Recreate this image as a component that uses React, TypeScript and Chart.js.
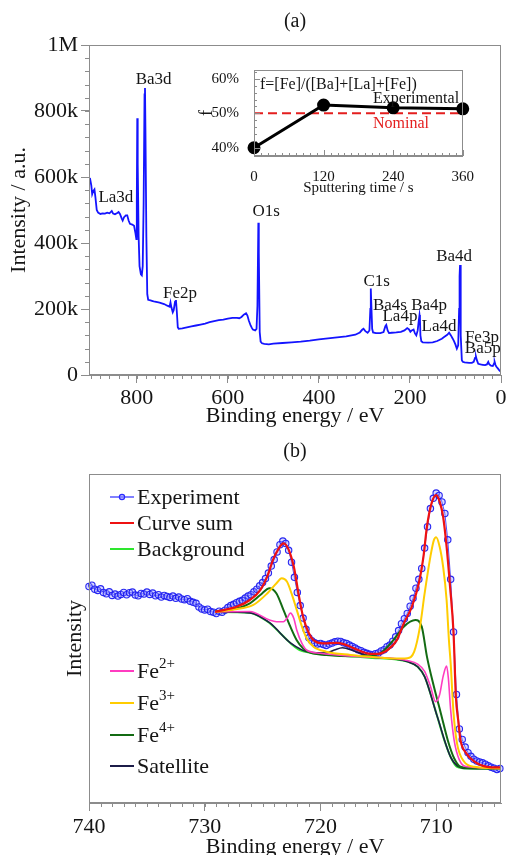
import React, { useEffect, useRef } from 'react';
import { Chart, registerables } from 'chart.js';

Chart.register(...registerables);

const SERIF = '"Liberation Serif", "Times New Roman", Times, serif';
const AXIS_GRAY = '#8c8c8c';
const INK = '#151515';

// ---------- (a) survey spectrum ----------
const surveyEnergy = [903,900,898,896,893,891,888,885,880,875,870,865,860,855,852,848,843,840,837,833,831,828,824,821,818,815,810,806,803,801,800,799,798,796,794,791,789,787,785,783,782,781,779,777,775,770,765,760,750,740,733,728,726,724,721,719,716,714,712,710,708,700,690,680,670,660,650,640,630,620,610,600,590,580,575,570,565,560,557,554,550,547,545,540,537,535,533,532,530,528,525,520,510,500,480,460,440,420,400,380,360,340,320,310,305,302,298,293,289,287,286,285,283,281,275,265,258,254,252,249,246,240,230,220,212,206,202,199,196,192,189,186,183,181,179,178,177,175,172,160,150,140,130,125,118,114,110,106,103,100,97,94,92,91,90,89,88,86,84,80,70,64,60,57,55,53,50,45,40,35,31,28,26,22,18,15,14,12,10,7,4,2,0];
const surveyIntensityK = [597,575,548,556,562,540,500,492,488,490,489,492,490,497,489,487,491,494,488,474,468,478,484,484,468,458,456,452,430,412,520,778,640,420,330,305,302,330,520,850,870,740,420,245,228,226,224,222,219,215,210,207,220,205,190,196,222,227,190,145,140,141,144,147,150,153,156,160,163,166,168,171,173,173,172,176,183,187,180,165,150,142,138,135,140,210,461,370,130,101,96,94,93,95,97,99,101,104,108,111,114,117,122,129,137,140,133,128,135,200,262,220,140,129,127,127,130,148,152,135,127,128,129,131,135,142,138,131,135,138,126,120,135,160,182,170,120,102,99,98,99,103,110,115,122,128,120,110,102,92,80,90,200,300,333,250,120,45,40,38,37,37,40,52,56,45,34,32,31,30,32,40,33,28,27,36,40,30,25,20,15,12,10];
const surveyTicksX = [0, 200, 400, 600, 800];
const surveyTicksY = [0, 200, 400, 600, 800, 1000];
const peakNames = ['La3d', 'Ba3d', 'Fe2p', 'O1s', 'C1s', 'Ba4s', 'La4p', 'Ba4p', 'La4d', 'Ba4d', 'Fe3p', 'Ba5p'];
const peakLabelEnergy = [846, 763, 705, 516, 273, 244, 222, 158, 136, 103, 42, 40];
const peakLabelIntensityK = [539, 894, 248, 494, 282, 209, 176, 209, 148, 358, 115, 79];

// ---------- inset ----------
const sputterTime = [0, 120, 240, 360];
const feFraction = [0.40, 0.524, 0.516, 0.513];
const nominalFraction = 0.5;
const insetTicksX = [0, 120, 240, 360];
const insetTicksY = [0.4, 0.5, 0.6];

// ---------- (b) Fe 2p ----------
const expStartEnergy = 740;
const expStep = 0.25;
const expIntensity = [65.8,66.2,65.0,64.6,65.1,64.0,63.6,64.2,63.1,63.5,62.9,63.4,64.0,63.3,63.9,64.1,63.2,63.0,63.7,63.5,64.1,63.4,63.8,63.0,63.3,62.6,63.1,62.8,62.5,62.9,62.2,62.6,62.0,61.8,62.1,61.3,61.0,60.7,59.6,59.0,58.7,58.9,58.2,58.0,57.6,58.3,58.0,58.6,59.4,60.0,60.4,60.9,61.3,61.6,62.3,62.9,63.3,64.2,65.0,66.0,67.0,68.2,69.9,72.0,74.0,76.3,78.5,79.6,78.9,76.8,73.2,68.6,64.0,60.0,56.2,52.8,50.2,49.3,48.7,48.3,48.5,48.2,47.9,48.3,48.6,49.0,49.2,49.1,48.7,48.5,48.0,47.6,47.1,46.6,46.3,45.8,45.5,45.2,45.0,45.4,45.6,46.2,46.6,47.5,48.0,49.2,50.5,52.4,54.5,56.0,57.6,59.8,62.2,65.3,68.0,71.3,77.5,84.0,89.5,92.6,94.2,93.5,91.5,88.0,80.0,68.0,52.0,33.0,22.5,19.3,17.0,15.3,14.2,13.3,12.8,12.5,12.2,11.8,11.3,10.9,10.6,10.2,10.5];

const sumEnergy = [729.1,727.2,726.1,725.2,724.6,724.1,723.6,723.2,722.8,722.3,721.9,721.5,721.0,720.6,719.75,718.6,718.0,717.1,716.0,715.1,714.2,713.4,712.8,712.1,711.5,711.1,710.8,710.4,710.0,709.7,709.4,709.1,708.8,708.5,708.3,708.1,707.9,707.4,706.7,705.6,704.4];
const sumIntensity = [58.1,59.7,61.7,64.7,68.8,73.9,77.4,78.9,77.4,71.8,63.7,56.6,51.6,49.5,48.5,48.7,48.3,47.0,45.5,45.3,46.5,49.5,54.6,59.7,66.8,74.9,84.0,91.1,93.6,91.6,87.0,77.9,65.7,51.6,32.3,25.2,19.1,15.1,12.6,11.0,10.8];

const bgEnergy = [729.1,727.5,726.1,725.2,724.4,723.5,722.6,721.8,720.9,719.0,717.1,715.5,713.6,712.5,711.6,711.0,710.5,709.9,709.3,708.7,708.2,707.3,706.0,704.4];
const bgIntensity = [58.1,58.0,57.8,56.5,54.7,51.7,48.6,46.5,45.7,45.0,44.5,44.1,43.7,43.0,41.4,38.4,33.3,26.2,19.1,13.6,11.0,10.5,10.5,10.5];

const fe2Energy = [729.1,726.1,724.4,723.8,723.2,722.9,722.6,722.3,722.05,721.6,721.2,720.0,717.1,713.6,712.5,711.6,711.0,710.5,710.05,709.7,709.4,709.1,708.95,708.75,708.45,708.0,707.3,704.4];
const fe2Intensity = [58.1,58.2,55.6,55.1,55.1,56.1,57.7,56.1,52.6,48.5,46.5,45.5,44.6,43.9,43.3,42.2,40.0,35.5,30.8,33.0,38.5,41.6,38.0,28.3,19.1,13.1,11.0,10.5];

const fe3Energy = [729.1,727.5,725.8,724.6,723.8,723.35,722.9,722.5,722.05,721.6,721.2,720.6,719.5,717.4,715.5,713.6,712.5,711.9,711.4,711.0,710.5,710.2,710.0,709.7,709.4,709.1,708.9,708.75,708.5,708.2,707.6,706.7,704.4];
const fe3Intensity = [58.1,58.8,60.2,63.7,66.8,68.3,67.3,63.7,58.7,53.6,50.1,47.5,46.0,45.0,44.4,43.9,44.0,46.0,53.6,63.7,74.9,79.9,80.8,77.9,71.8,61.7,49.5,42.5,27.3,18.1,12.6,11.0,10.5];

const fe4Energy = [729.1,727.2,726.1,725.2,724.4,723.8,723.2,722.6,722.05,721.5,720.9,719.5,717.1,716.0,714.85,713.7,712.8,711.8,711.25,710.8,710.2,709.6,709.0,708.45,707.9,706.5,704.4];
const fe4Intensity = [58.1,59.2,60.7,63.2,65.3,63.7,58.7,53.6,49.5,47.0,45.7,45.0,44.6,44.8,45.5,49.5,53.6,55.6,53.6,44.5,35.4,27.3,19.1,13.6,11.0,10.5,10.5];

const satEnergy = [729.1,726.1,724.4,722.6,720.9,719.5,718.8,718.1,717.1,715.7,713.6,712.5,711.6,711.0,709.9,708.7,707.3,704.4];
const satIntensity = [58.1,57.8,54.8,48.7,45.8,45.6,46.5,47.2,46.2,44.5,43.8,43.0,41.4,38.4,26.2,13.6,10.5,10.5];

const fe2pTicksX = [740, 730, 720, 710];

const EXP_COLOR = '#2a2aff';
const SUM_COLOR = '#ee1111';
const BG_COLOR = '#2ee62e';
const FE2_COLOR = '#ff3cc0';
const FE3_COLOR = '#ffcc00';
const FE4_COLOR = '#136b13';
const SAT_COLOR = '#1c1c48';

function zip(xs: number[], ys: number[]) {
  return xs.map((x, i) => ({ x, y: ys[i] }));
}

function steps(from: number, to: number, step: number) {
  const out: number[] = [];
  const n = Math.round((to - from) / step);
  for (let i = 0; i <= n; i++) out.push(from + i * step);
  return out;
}

function tickMarks(chart: any, id: string, values: number[], len: number, inward: boolean) {
  const s = chart.scales[id];
  const { ctx, chartArea: a } = chart;
  ctx.save();
  ctx.strokeStyle = AXIS_GRAY;
  ctx.lineWidth = 1;
  ctx.beginPath();
  values.forEach((v) => {
    const p = Math.round(s.getPixelForValue(v)) + 0.5;
    if (s.isHorizontal()) {
      const y0 = a.bottom;
      ctx.moveTo(p, y0);
      ctx.lineTo(p, inward ? y0 - len : y0 + len);
    } else {
      const x0 = a.left;
      ctx.moveTo(x0, p);
      ctx.lineTo(inward ? x0 + len : x0 - len, p);
    }
  });
  ctx.stroke();
  ctx.restore();
}

function frame(chart: any) {
  const { ctx, chartArea: a } = chart;
  ctx.save();
  ctx.strokeStyle = AXIS_GRAY;
  ctx.lineWidth = 1;
  ctx.strokeRect(Math.round(a.left) + 0.5, Math.round(a.top) + 0.5, Math.round(a.right - a.left) - 1, Math.round(a.bottom - a.top) - 1);
  ctx.restore();
}

function txt(ctx: CanvasRenderingContext2D, s: string, x: number, y: number, size: number, color = INK, align: CanvasTextAlign = 'center', baseline: CanvasTextBaseline = 'middle') {
  ctx.save();
  ctx.font = `${size}px ${SERIF}`;
  ctx.fillStyle = color;
  ctx.textAlign = align;
  ctx.textBaseline = baseline;
  ctx.fillText(s, x, y);
  ctx.restore();
}

const tickFont = (size: number) => ({ family: SERIF, size, lineHeight: 1 });

export default function App() {
  const topRef = useRef<HTMLCanvasElement>(null);
  const insetRef = useRef<HTMLCanvasElement>(null);
  const botRef = useRef<HTMLCanvasElement>(null);

  useEffect(() => {
    const charts: Chart[] = [];

    // ---------- top survey ----------
    const topDecor = {
      id: 'topDecor',
      afterDraw(chart: any) {
        const { ctx, chartArea: a, scales } = chart;
        frame(chart);
        tickMarks(chart, 'x', steps(0, 900, 20), 4, false);
        tickMarks(chart, 'y', steps(0, 1000, 40), 4, false);
        txt(ctx, '(a)', (a.left + a.right) / 2, 22, 20);
        peakNames.forEach((n, i) => {
          txt(ctx, n, scales.x.getPixelForValue(peakLabelEnergy[i]), scales.y.getPixelForValue(peakLabelIntensityK[i]), 17);
        });
      },
    };
    charts.push(new Chart(topRef.current!, {
      type: 'line',
      data: {
        datasets: [{
          data: zip(surveyEnergy, surveyIntensityK),
          borderColor: '#1414ff',
          borderWidth: 1.8,
          pointRadius: 0,
          tension: 0,
        }],
      },
      options: {
        animation: false,
        responsive: false,
        events: [],
        layout: { padding: { left: 0, right: 7, top: 45, bottom: 0 } },
        plugins: { legend: { display: false }, tooltip: { enabled: false } },
        scales: {
          x: {
            type: 'linear', reverse: true, min: 0, max: 905,
            afterBuildTicks: (s: any) => { s.ticks = surveyTicksX.map((v) => ({ value: v })); },
            afterFit: (s: any) => { s.height = 65; },
            grid: { drawOnChartArea: false, tickLength: 8, color: AXIS_GRAY, tickColor: AXIS_GRAY },
            border: { color: AXIS_GRAY },
            ticks: { font: tickFont(22), color: INK, padding: 4, maxRotation: 0, autoSkip: false },
            title: { display: true, text: 'Binding energy / eV', font: { family: SERIF, size: 22 }, color: INK, padding: { top: 0, bottom: 11 } },
          },
          y: {
            type: 'linear', min: 0, max: 1000,
            afterBuildTicks: (s: any) => { s.ticks = surveyTicksY.map((v) => ({ value: v })); },
            afterFit: (s: any) => { s.width = 89; },
            grid: { drawOnChartArea: false, tickLength: 8, color: AXIS_GRAY, tickColor: AXIS_GRAY },
            border: { color: AXIS_GRAY },
            ticks: {
              font: tickFont(22), color: INK, padding: 3, autoSkip: false,
              callback: (v: any) => (v === 0 ? '0' : v === 1000 ? '1M' : `${v}k`),
            },
            title: { display: true, text: 'Intensity / a.u.', font: { family: SERIF, size: 22 }, color: INK, padding: { top: 6, bottom: 0 } },
          },
        },
      },
      plugins: [topDecor],
    } as any));

    // ---------- inset ----------
    const insetDecor = {
      id: 'insetDecor',
      afterDraw(chart: any) {
        const { ctx } = chart;
        frame(chart);
        tickMarks(chart, 'x', steps(0, 360, 12), 3, true);
        tickMarks(chart, 'x', insetTicksX, 6, true);
        tickMarks(chart, 'y', steps(0.38, 0.62, 0.02), 3, true);
        tickMarks(chart, 'y', insetTicksY, 6, true);
        txt(ctx, 'f=[Fe]/([Ba]+[La]+[Fe])', 70, 30, 16, INK, 'left');
        txt(ctx, 'Experimental', 226, 44, 16);
        txt(ctx, 'Nominal', 211, 69, 16, '#e41e1e');
      },
    };
    charts.push(new Chart(insetRef.current!, {
      type: 'line',
      data: {
        datasets: [
          {
            data: zip(sputterTime, feFraction),
            borderColor: '#000',
            backgroundColor: '#000',
            borderWidth: 3,
            pointRadius: 5,
            pointBackgroundColor: '#000',
            clip: false,
            order: 0,
          },
          {
            data: [{ x: sputterTime[0], y: nominalFraction }, { x: sputterTime[sputterTime.length - 1], y: nominalFraction }],
            borderColor: '#e41e1e',
            borderWidth: 2,
            borderDash: [9, 5],
            pointRadius: 0,
            order: 1,
          },
        ],
      },
      options: {
        animation: false,
        responsive: false,
        events: [],
        layout: { padding: { left: 0, right: 13, top: 15, bottom: 0 } },
        plugins: { legend: { display: false }, tooltip: { enabled: false } },
        scales: {
          x: {
            type: 'linear', min: 0, max: 360,
            afterBuildTicks: (s: any) => { s.ticks = insetTicksX.map((v) => ({ value: v })); },
            afterFit: (s: any) => { s.height = 44; },
            grid: { display: false },
            border: { color: AXIS_GRAY },
            ticks: { font: tickFont(15), color: INK, padding: 6, maxRotation: 0, autoSkip: false },
            title: { display: true, text: 'Sputtering time / s', font: { family: SERIF, size: 15 }, color: INK, padding: { top: 0, bottom: 3 } },
          },
          y: {
            type: 'linear', min: 0.376, max: 0.626,
            afterBuildTicks: (s: any) => { s.ticks = insetTicksY.map((v) => ({ value: v })); },
            afterFit: (s: any) => { s.width = 64; },
            grid: { display: false },
            border: { color: AXIS_GRAY },
            ticks: { font: tickFont(15), color: INK, padding: 7, autoSkip: false, callback: (v: any) => `${Math.round(v * 100)}%` },
            title: { display: true, text: 'f', font: { family: SERIF, size: 18 }, color: INK, padding: { top: 6, bottom: 0 } },
          },
        },
      },
      plugins: [insetDecor],
    } as any));

    // ---------- bottom Fe 2p ----------
    const topLegend = [
      { label: 'Experiment', color: EXP_COLOR, marker: true },
      { label: 'Curve sum', color: SUM_COLOR },
      { label: 'Background', color: BG_COLOR },
    ];
    const lowLegend = [
      { label: 'Fe', sup: '2+', color: FE2_COLOR },
      { label: 'Fe', sup: '3+', color: FE3_COLOR },
      { label: 'Fe', sup: '4+', color: FE4_COLOR },
      { label: 'Satellite', sup: '', color: SAT_COLOR },
    ];
    const botDecor = {
      id: 'botDecor',
      afterDraw(chart: any) {
        const { ctx, chartArea: a } = chart;
        frame(chart);
        tickMarks(chart, 'x', steps(705, 740, 1), 4, false);
        txt(ctx, '(b)', (a.left + a.right) / 2, 22, 20);
        const drawRow = (color: string, baseline: number, marker: boolean) => {
          ctx.save();
          ctx.strokeStyle = color;
          ctx.lineWidth = marker ? 1.2 : 2;
          ctx.beginPath();
          ctx.moveTo(110, baseline - 7);
          ctx.lineTo(134, baseline - 7);
          ctx.stroke();
          if (marker) {
            ctx.beginPath();
            ctx.arc(122, baseline - 7, 2.6, 0, Math.PI * 2);
            ctx.fillStyle = 'rgba(140,140,255,0.6)';
            ctx.fill();
            ctx.stroke();
          }
          ctx.restore();
        };
        const topBase = [74, 100, 126];
        topLegend.forEach((r, i) => {
          drawRow(r.color, topBase[i], !!r.marker);
          txt(ctx, r.label, 137, topBase[i], 22, INK, 'left', 'alphabetic');
        });
        const lowBase = [248, 280, 312, 343];
        lowLegend.forEach((r, i) => {
          drawRow(r.color, lowBase[i], false);
          txt(ctx, r.label, 137, lowBase[i], 22, INK, 'left', 'alphabetic');
          if (r.sup) {
            ctx.save();
            ctx.font = `22px ${SERIF}`;
            const w = ctx.measureText(r.label).width;
            ctx.restore();
            txt(ctx, r.sup, 137 + w, lowBase[i] - 10, 15, INK, 'left', 'alphabetic');
          }
        });
      },
    };
    const fitLine = (xs: number[], ys: number[], color: string, width: number, order: number) => ({
      data: zip(xs, ys),
      borderColor: color,
      borderWidth: width,
      pointRadius: 0,
      cubicInterpolationMode: 'monotone',
      order,
    });
    charts.push(new Chart(botRef.current!, {
      type: 'line',
      data: {
        datasets: [
          {
            data: expIntensity.map((y, i) => ({ x: expStartEnergy - i * expStep, y })),
            borderColor: 'rgba(50,50,255,0.85)',
            borderWidth: 1,
            pointRadius: 3.2,
            pointBorderWidth: 1.1,
            pointBorderColor: 'rgba(30,30,240,0.95)',
            pointBackgroundColor: 'rgba(150,150,255,0.35)',
            clip: false,
            order: 10,
          },
          fitLine(bgEnergy, bgIntensity, BG_COLOR, 2, 6),
          fitLine(satEnergy, satIntensity, SAT_COLOR, 1.6, 5),
          fitLine(fe4Energy, fe4Intensity, FE4_COLOR, 2, 4),
          fitLine(fe2Energy, fe2Intensity, FE2_COLOR, 1.6, 3),
          fitLine(fe3Energy, fe3Intensity, FE3_COLOR, 2, 2),
          fitLine(sumEnergy, sumIntensity, SUM_COLOR, 2.2, 0),
        ],
      },
      options: {
        animation: false,
        responsive: false,
        events: [],
        layout: { padding: { left: 0, right: 7, top: 44, bottom: 0 } },
        plugins: { legend: { display: false }, tooltip: { enabled: false } },
        scales: {
          x: {
            type: 'linear', reverse: true, min: 704.4, max: 740,
            afterBuildTicks: (s: any) => { s.ticks = fe2pTicksX.map((v) => ({ value: v })); },
            afterFit: (s: any) => { s.height = 67; },
            grid: { drawOnChartArea: false, tickLength: 8, color: AXIS_GRAY, tickColor: AXIS_GRAY },
            border: { color: AXIS_GRAY },
            ticks: { font: tickFont(22), color: INK, padding: 5, maxRotation: 0, autoSkip: false },
            title: { display: true, text: 'Binding energy / eV', font: { family: SERIF, size: 22 }, color: INK, padding: { top: 0, bottom: 10 } },
          },
          y: {
            type: 'linear', min: 0, max: 100,
            afterFit: (s: any) => { s.width = 89; },
            grid: { display: false },
            border: { color: AXIS_GRAY },
            ticks: { display: false },
            title: { display: true, text: 'Intensity', font: { family: SERIF, size: 22 }, color: INK, padding: { top: 62, bottom: 0 } },
          },
        },
      },
      plugins: [botDecor],
    } as any));

    return () => charts.forEach((c) => c.destroy());
  }, []);

  return (
    <div style={{ position: 'absolute', left: 0, top: 0, width: 508, height: 855, overflow: 'hidden', background: '#fff' }}>
      <canvas ref={topRef} width={508} height={440} style={{ position: 'absolute', left: 0, top: 0 }} />
      <canvas ref={botRef} width={508} height={440} style={{ position: 'absolute', left: 0, top: 430 }} />
      <canvas ref={insetRef} width={290} height={145} style={{ position: 'absolute', left: 190, top: 55 }} />
    </div>
  );
}
